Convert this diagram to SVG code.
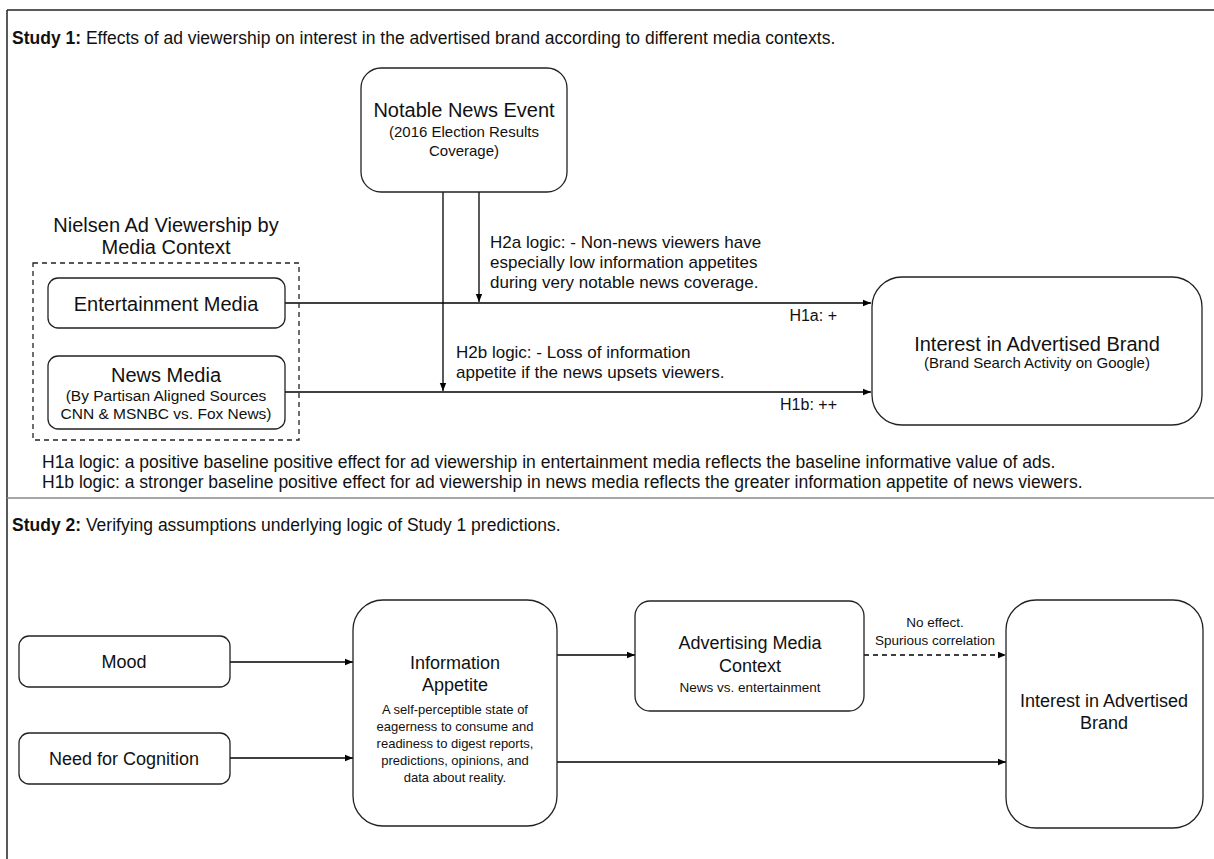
<svg xmlns="http://www.w3.org/2000/svg" width="1214" height="859" viewBox="0 0 1214 859">
<defs>
<marker id="ah" viewBox="0 0 10 10" refX="10" refY="5" markerWidth="8" markerHeight="8" markerUnits="userSpaceOnUse" orient="auto">
<path d="M0,1 L10,5 L0,9 z" fill="#000"/>
</marker>
</defs>
<style>
text{font-family:"Liberation Sans",Arial,Helvetica,sans-serif;fill:#111}
.box{fill:#fff;stroke:#222;stroke-width:1.3}
.c{text-anchor:middle}
.big{font-size:20px}
.med{font-size:18px}
.lbl{font-size:17px}
.sub{font-size:15px}
.xs{font-size:13px}
.arr{stroke:#000;stroke-width:1.3;fill:none;marker-end:url(#ah)}
</style>
<rect x="0" y="0" width="1214" height="859" fill="#fff"/>
<g id="frame">
<line x1="7" y1="10" x2="1214" y2="10" stroke="#222" stroke-width="1.5"/>
<line x1="7" y1="10" x2="7" y2="859" stroke="#222" stroke-width="1.5"/>
<line x1="7" y1="498" x2="1214" y2="498" stroke="#888" stroke-width="1.5"/>
</g>
<g id="titles">
<text x="12" y="44" style="font-size:17.5px"><tspan font-weight="bold">Study 1:</tspan> Effects of ad viewership on interest in the advertised brand according to different media contexts.</text>
<text x="12" y="531" style="font-size:17.5px"><tspan font-weight="bold">Study 2:</tspan> Verifying assumptions underlying logic of Study 1 predictions.</text>
</g>
<g id="connectors">
<line class="arr" x1="285" y1="303" x2="871" y2="303"/>
<line class="arr" x1="285" y1="392" x2="871" y2="392"/>
<line class="arr" x1="479" y1="192" x2="479" y2="302"/>
<line class="arr" x1="443" y1="192" x2="443" y2="391"/>
<line class="arr" x1="230" y1="662" x2="353" y2="662"/>
<line class="arr" x1="230" y1="758" x2="353" y2="758"/>
<line class="arr" x1="557" y1="655" x2="635" y2="655"/>
<line class="arr" x1="864" y1="655" x2="1006" y2="655" stroke-dasharray="5,4"/>
<line class="arr" x1="557" y1="762" x2="1006" y2="762"/>
</g>
<g id="notable-news-event">
<rect class="box" x="361" y="68" width="206" height="124" rx="20"/>
<text class="c big" x="464" y="117">Notable News Event</text>
<text class="c sub" x="464" y="137">(2016 Election Results</text>
<text class="c sub" x="464" y="156">Coverage)</text>
</g>
<g id="nielsen-group">
<text class="c big" x="166" y="232">Nielsen Ad Viewership by</text>
<text class="c big" x="166" y="254">Media Context</text>
<rect x="33" y="263" width="266" height="177" fill="none" stroke="#222" stroke-width="1.3" stroke-dasharray="5,4"/>
</g>
<g id="entertainment-media">
<rect class="box" x="48" y="278" width="237" height="50" rx="10"/>
<text class="c big" x="166" y="311">Entertainment Media</text>
</g>
<g id="news-media">
<rect class="box" x="48" y="356" width="237" height="73" rx="10"/>
<text class="c big" x="166" y="382">News Media</text>
<text class="c" x="166" y="401" style="font-size:15.5px">(By Partisan Aligned Sources</text>
<text class="c" x="166" y="419" style="font-size:15.5px">CNN &amp; MSNBC vs. Fox News)</text>
</g>
<g id="interest-brand-1">
<rect class="box" x="872" y="277" width="330" height="148" rx="30"/>
<text class="c big" x="1037" y="351">Interest in Advertised Brand</text>
<text class="c sub" x="1037" y="368">(Brand Search Activity on Google)</text>
</g>
<g id="labels-study1">
<text class="lbl" x="490" y="248">H2a logic: - Non-news viewers have</text>
<text class="lbl" x="490" y="268">especially low information appetites</text>
<text class="lbl" x="490" y="288">during very notable news coverage.</text>
<text x="837" y="321" style="font-size:16px;text-anchor:end">H1a: +</text>
<text class="lbl" x="456" y="358">H2b logic: - Loss of information</text>
<text class="lbl" x="456" y="378">appetite if the news upsets viewers.</text>
<text x="837" y="410" style="font-size:16px;text-anchor:end">H1b: ++</text>
<text x="42" y="468" style="font-size:17.5px">H1a logic: a positive baseline positive effect for ad viewership in entertainment media reflects the baseline informative value of ads.</text>
<text x="42" y="488" style="font-size:17.5px">H1b logic: a stronger baseline positive effect for ad viewership in news media reflects the greater information appetite of news viewers.</text>
</g>
<g id="mood">
<rect class="box" x="19" y="636" width="211" height="51" rx="10"/>
<text class="c med" x="124" y="668">Mood</text>
</g>
<g id="need-for-cognition">
<rect class="box" x="19" y="733" width="211" height="51" rx="10"/>
<text class="c med" x="124" y="765">Need for Cognition</text>
</g>
<g id="information-appetite">
<rect class="box" x="353" y="600" width="204" height="226" rx="30"/>
<text class="c med" x="455" y="669">Information</text>
<text class="c med" x="455" y="691">Appetite</text>
<text class="c xs" x="455" y="714">A self-perceptible state of</text>
<text class="c xs" x="455" y="731">eagerness to consume and</text>
<text class="c xs" x="455" y="748">readiness to digest reports,</text>
<text class="c xs" x="455" y="765">predictions, opinions, and</text>
<text class="c xs" x="455" y="782">data about reality.</text>
</g>
<g id="advertising-media-context">
<rect class="box" x="635" y="601" width="229" height="110" rx="15"/>
<text class="c med" x="750" y="649">Advertising Media</text>
<text class="c med" x="750" y="672">Context</text>
<text class="c" x="750" y="692" style="font-size:13.5px">News vs. entertainment</text>
</g>
<g id="no-effect-label">
<text class="c" x="935" y="627" style="font-size:13.5px">No effect.</text>
<text class="c" x="935" y="645" style="font-size:13.5px">Spurious correlation</text>
</g>
<g id="interest-brand-2">
<rect class="box" x="1006" y="600" width="197" height="228" rx="30"/>
<text class="c med" x="1104" y="707">Interest in Advertised</text>
<text class="c med" x="1104" y="729">Brand</text>
</g>
</svg>
